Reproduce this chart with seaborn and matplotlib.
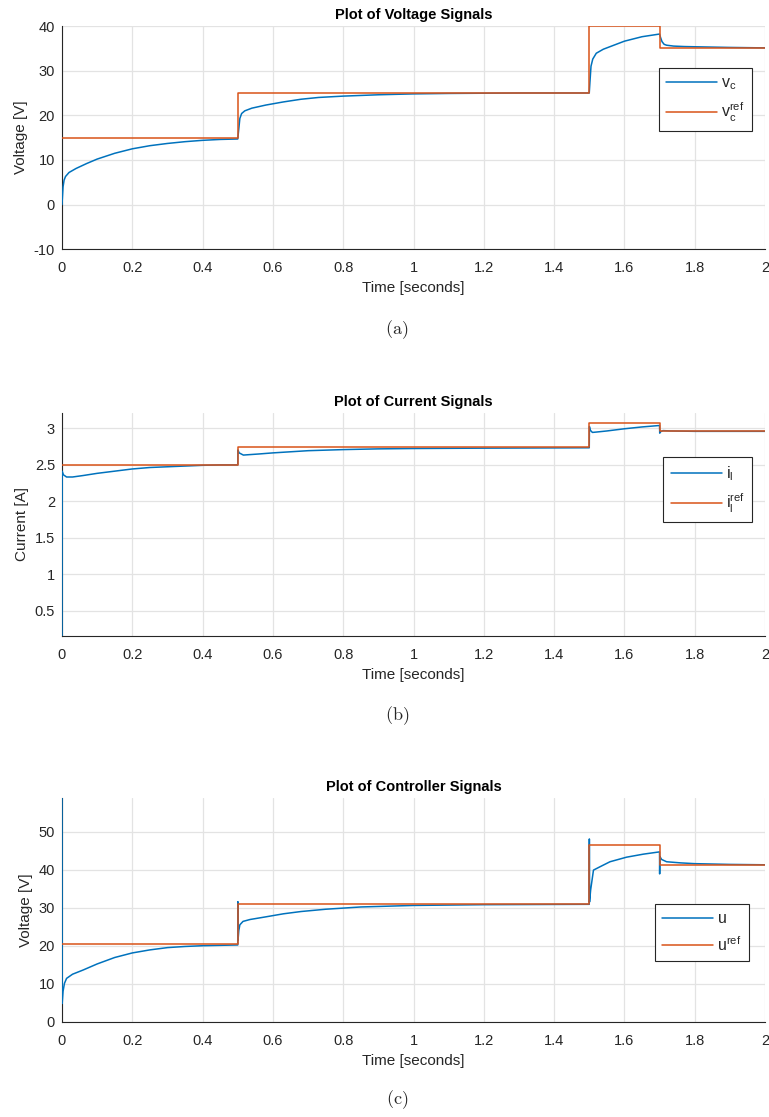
import matplotlib
matplotlib.use("Agg")
import matplotlib.pyplot as plt
import seaborn as sns
import pandas as pd
from matplotlib.ticker import FuncFormatter

# ---------------- data ----------------
t_vc = [0, 0.003, 0.006, 0.01, 0.02, 0.04, 0.07, 0.1, 0.15, 0.2, 0.25, 0.3, 0.35, 0.4, 0.45, 0.5,
        0.503, 0.506, 0.511, 0.52, 0.54, 0.58, 0.63, 0.68, 0.73, 0.8, 0.9, 1.0, 1.1, 1.2, 1.3, 1.4, 1.5,
        1.502, 1.505, 1.51, 1.52, 1.54, 1.56, 1.6, 1.65, 1.7,
        1.703, 1.707, 1.713, 1.72, 1.74, 1.77, 1.8, 1.9, 2.0]
vc = [0, 4.0, 5.5, 6.3, 7.2, 8.1, 9.2, 10.2, 11.5, 12.5, 13.2, 13.7, 14.1, 14.4, 14.6, 14.7,
      17.0, 19.3, 20.4, 21.0, 21.6, 22.3, 23.0, 23.6, 24.0, 24.3, 24.6, 24.8, 24.9, 24.95, 25.0, 25.0, 25.0,
      27.5, 31.0, 32.6, 33.9, 34.8, 35.4, 36.6, 37.6, 38.2,
      37.4, 36.5, 35.9, 35.7, 35.5, 35.4, 35.35, 35.2, 35.1]
t_ref = [0, 0.5, 0.5, 1.5, 1.5, 1.7, 1.7, 2.0]
vc_ref = [15, 15, 25, 25, 40, 40, 35, 35]

t_il = [0, 0.0005, 0.004, 0.013, 0.03, 0.06, 0.1, 0.15, 0.2, 0.25, 0.3, 0.35, 0.4, 0.45, 0.5,
        0.5005, 0.504, 0.516, 0.53, 0.56, 0.6, 0.7, 0.8, 0.9, 1.0, 1.2, 1.5,
        1.5005, 1.503, 1.509, 1.52, 1.55, 1.6, 1.65, 1.7,
        1.7005, 1.703, 1.71, 1.73, 1.8, 2.0]
il = [0.158, 2.41, 2.36, 2.33, 2.33, 2.35, 2.38, 2.41, 2.44, 2.46, 2.47, 2.48, 2.49, 2.495, 2.495,
      2.70, 2.66, 2.63, 2.635, 2.645, 2.66, 2.69, 2.705, 2.715, 2.72, 2.725, 2.73,
      3.02, 2.97, 2.94, 2.945, 2.96, 2.99, 3.015, 3.035,
      2.93, 2.95, 2.965, 2.96, 2.955, 2.955]
il_ref = [2.5, 2.5, 2.735, 2.735, 3.07, 3.07, 2.955, 2.955]

t_u = [0, 0.0005, 0.003, 0.007, 0.013, 0.03, 0.06, 0.1, 0.15, 0.2, 0.25, 0.3, 0.35, 0.4, 0.45, 0.5,
       0.5003, 0.5008, 0.503, 0.506, 0.515, 0.535, 0.58, 0.63, 0.68, 0.75, 0.85, 1.0, 1.2, 1.5,
       1.5003, 1.5008, 1.504, 1.512, 1.531, 1.559, 1.606, 1.654, 1.7,
       1.7003, 1.7008, 1.706, 1.72, 1.76, 1.8, 1.9, 2.0]
u = [58.8, 4.8, 8.0, 10.1, 11.4, 12.5, 13.6, 15.2, 16.9, 18.1, 18.9, 19.5, 19.8, 20.0, 20.1, 20.2,
     31.6, 21.5, 24.0, 25.5, 26.4, 26.9, 27.6, 28.4, 29.0, 29.6, 30.2, 30.6, 30.8, 30.9,
     48.1, 31.5, 34.7, 39.9, 40.8, 42.1, 43.3, 44.1, 44.7,
     38.9, 43.5, 42.7, 42.1, 41.8, 41.6, 41.4, 41.3]
u_ref = [20.4, 20.4, 30.9, 30.9, 46.5, 46.5, 41.2, 41.2]

x_ticks = [0, 0.2, 0.4, 0.6, 0.8, 1.0, 1.2, 1.4, 1.6, 1.8, 2.0]

panels = [
    dict(t=t_vc, y=vc, yref=vc_ref, title="Plot of Voltage Signals", ylabel="Voltage [V]",
         ylim=(-10, 40), yticks=[-10, 0, 10, 20, 30, 40],
         labels=[r"$\mathregular{v_c}$", r"$\mathregular{v_c^{ref}}$"], caption="(a)"),
    dict(t=t_il, y=il, yref=il_ref, title="Plot of Current Signals", ylabel="Current [A]",
         ylim=(0.158, 3.21), yticks=[0.5, 1, 1.5, 2, 2.5, 3],
         labels=[r"$\mathregular{i_l}$", r"$\mathregular{i_l^{ref}}$"], caption="(b)"),
    dict(t=t_u, y=u, yref=u_ref, title="Plot of Controller Signals", ylabel="Voltage [V]",
         ylim=(0, 58.8), yticks=[0, 10, 20, 30, 40, 50],
         labels=[r"$\mathregular{u}$", r"$\mathregular{u^{ref}}$"], caption="(c)"),
]

# ---------------- styling ----------------
sns.set_style("white")
plt.rcParams["font.family"] = ["Liberation Sans", "DejaVu Sans"]
plt.rcParams["mathtext.fontset"] = "custom"
plt.rcParams["mathtext.rm"] = "Liberation Sans"

BLUE = "#0072BD"
ORANGE = "#D95319"
DARK = "#262626"

W, H = 769, 1117
fig = plt.figure(figsize=(W / 100, H / 100), dpi=100)

axes_px = [(26, 249.3), (412.7, 635.7), (798.3, 1021.7)]
legend_anchor = [(0.981, 0.812), (0.981, 0.801), (0.977, 0.527)]
caption_y = [330, 716, 1100]
left_px, right_px = 62, 765

for p, (top, bot), anc, cy in zip(panels, axes_px, legend_anchor, caption_y):
    ax = fig.add_axes([left_px / W, 1 - bot / H, (right_px - left_px) / W, (bot - top) / H])
    df = pd.DataFrame({"t": p["t"], "y": p["y"]})
    dfr = pd.DataFrame({"t": t_ref, "y": p["yref"]})
    sns.lineplot(data=df, x="t", y="y", ax=ax, color=BLUE, lw=1.1, sort=False,
                 estimator=None, label=p["labels"][0], zorder=3)
    sns.lineplot(data=dfr, x="t", y="y", ax=ax, color=ORANGE, lw=1.1, sort=False,
                 estimator=None, label=p["labels"][1], zorder=3)
    ax.set_xlim(0, 2)
    ax.set_ylim(*p["ylim"])
    ax.set_xticks(x_ticks)
    ax.set_yticks(p["yticks"])
    ax.xaxis.set_major_formatter(FuncFormatter(lambda v, pos: "%g" % v))
    ax.yaxis.set_major_formatter(FuncFormatter(lambda v, pos: "%g" % v))
    ax.grid(True, color="#e3e3e3", lw=0.9)
    ax.set_axisbelow(True)
    for s in ("top", "right"):
        ax.spines[s].set_visible(False)
    for s in ("left", "bottom"):
        ax.spines[s].set_color(DARK)
        ax.spines[s].set_linewidth(0.8)
        ax.spines[s].set_zorder(2.5)
    ax.tick_params(direction="in", length=3.6, width=0.8, colors=DARK, labelsize=10.5,
                   labelcolor=DARK)
    ax.tick_params(axis="x", pad=8.5)
    ax.tick_params(axis="y", pad=5)
    ax.set_title(p["title"], fontsize=10.5, fontweight="bold", color="black", pad=5)
    ax.set_xlabel("Time [seconds]", fontsize=11, color=DARK, labelpad=4.5)
    ax.set_ylabel(p["ylabel"], fontsize=11, color=DARK, labelpad=4)
    leg = ax.legend(loc="upper right", bbox_to_anchor=anc, borderaxespad=0, fancybox=False,
                    framealpha=1, edgecolor=DARK, fontsize=11.5, handlelength=3.2,
                    borderpad=0.45, labelspacing=0.55, handletextpad=0.25)
    leg.get_frame().set_linewidth(0.8)
    fig.text(397 / W, 1 - cy / H, r"$\mathrm{" + p["caption"] + "}$", ha="center", va="center",
             fontsize=13, math_fontfamily="cm")

fig.savefig("out.png", dpi=100)
